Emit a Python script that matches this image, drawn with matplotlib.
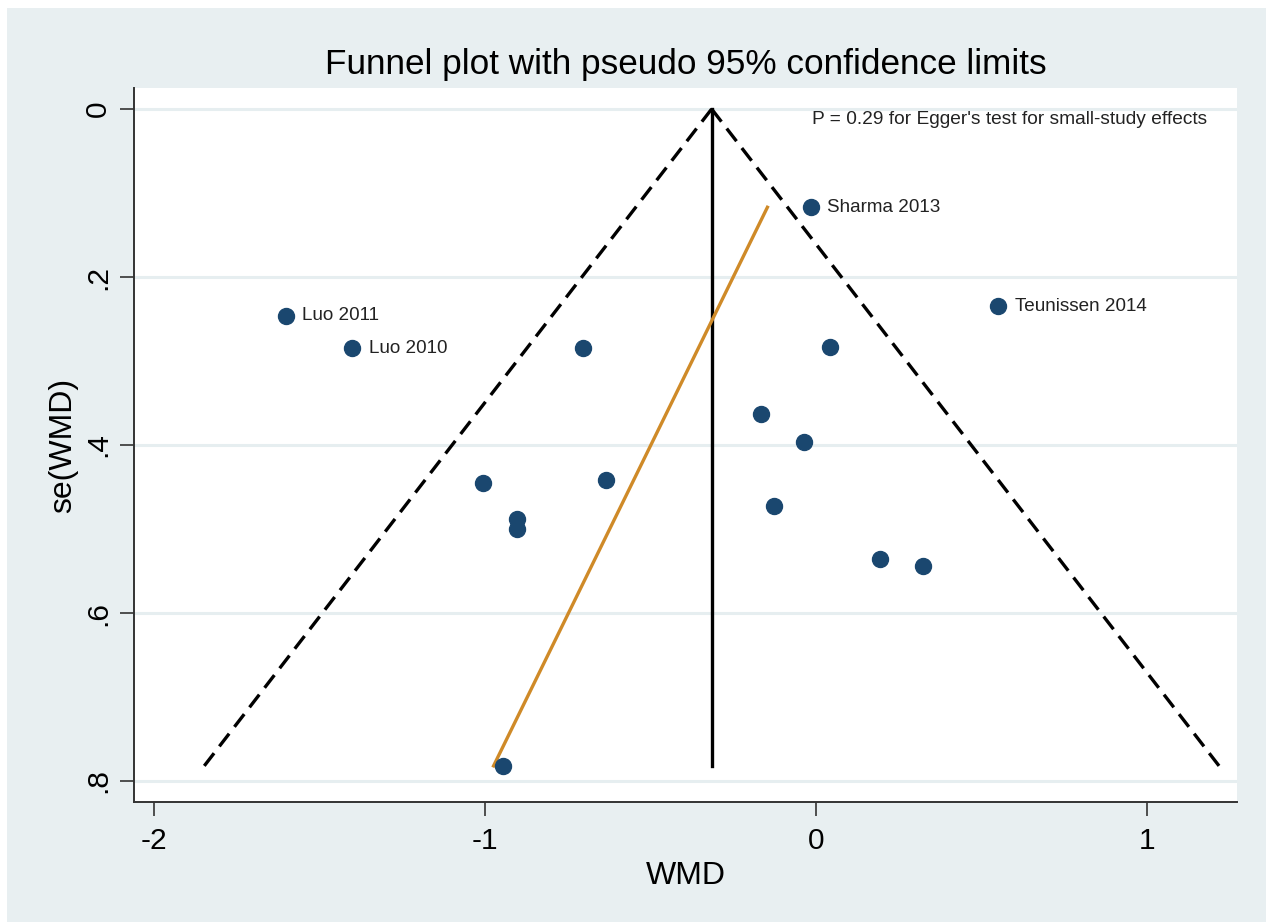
import numpy as np
import matplotlib
matplotlib.use("Agg")
import matplotlib.pyplot as plt
from matplotlib.patches import Rectangle

plt.rcParams['font.family'] = ['Liberation Sans', 'DejaVu Sans']

# Study effects (WMD) and their standard errors
wmd = [-1.602, -1.400, -0.703, -1.005, -0.635, -0.904, -0.904,
       0.044, -0.166, -0.035, -0.127, 0.193, 0.322,
       -0.016, 0.551, -0.946]
se = [0.246, 0.285, 0.284, 0.445, 0.442, 0.488, 0.500,
      0.283, 0.363, 0.396, 0.473, 0.536, 0.544,
      0.117, 0.235, 0.782]
labels = ["Luo 2011", "Luo 2010", "", "", "", "", "",
          "", "", "", "", "", "",
          "Sharma 2013", "Teunissen 2014", ""]

pooled = -0.315          # fixed-effect pooled WMD
egger_intercept = -0.001  # regression line: WMD = a + b * se
egger_slope = -1.244
egger_p = 0.29

x_ticks = [-2, -1, 0, 1]
x_ticklabels = ["-2", "-1", "0", "1"]
y_ticks = [0, 0.2, 0.4, 0.6, 0.8]
y_ticklabels = ["0", ".2", ".4", ".6", ".8"]

bg = "#e8eff1"
navy = "#1a476f"
orange = "#cf8a28"

fig = plt.figure(figsize=(12.66, 9.22), dpi=100)
fig.patch.set_facecolor(bg)
# thin white margin on the top and left edges
fig.patches.append(Rectangle((0, 1 - 8 / 922), 1, 8 / 922, transform=fig.transFigure,
                             facecolor="white", edgecolor="none", zorder=0))
fig.patches.append(Rectangle((0, 0), 7 / 1266, 1, transform=fig.transFigure,
                             facecolor="white", edgecolor="none", zorder=0))

ax = fig.add_axes([134 / 1266, 1 - 802 / 922, 1103 / 1266, 714 / 922])
ax.set_facecolor("white")

se_max = max(se)
se_min = min(se)

# horizontal grid
for yt in y_ticks:
    ax.axhline(yt, color="#e6eef0", lw=2.2, zorder=1)

# pseudo 95% confidence limits
s_line = np.array([0.0, se_max])
ax.plot(pooled - 1.96 * s_line, s_line, color="black", lw=2.4,
        dashes=(4.8, 2.6), zorder=3)
ax.plot(pooled + 1.96 * s_line, s_line, color="black", lw=2.4,
        dashes=(4.8, 2.6), zorder=3)
ax.plot([pooled, pooled], [0, se_max], color="black", lw=2.4, zorder=3)

# Egger regression line
s_eg = np.array([se_min, se_max])
ax.plot(egger_intercept + egger_slope * s_eg, s_eg, color=orange, lw=2.4, zorder=4)

# studies
ax.plot(wmd, se, linestyle="none", marker="o", ms=11.5, color=navy,
        markeredgecolor=navy, zorder=5)
for xv, yv, lab in zip(wmd, se, labels):
    if lab:
        ax.annotate(lab, (xv, yv), xytext=(12, 0), textcoords="offset points",
                    ha="left", va="center", fontsize=13.6, color="#222222", zorder=6)

ax.text(1.181, 0.012, f"P = {egger_p:.2f} for Egger's test for small-study effects",
        ha="right", va="center", fontsize=13.8, color="#222222", zorder=6)

ax.set_xlim(-2.06, 1.272)
ax.set_ylim(0.825, -0.025)

ax.set_xticks(x_ticks)
ax.set_xticklabels(x_ticklabels, fontsize=21.5)
ax.set_yticks(y_ticks)
ax.set_yticklabels(y_ticklabels, fontsize=21.5, rotation=90, va="center")
ax.tick_params(axis="both", length=10, width=1.2, color="#333333", pad=8)
ax.tick_params(axis="y", pad=6)

for side in ["top", "right"]:
    ax.spines[side].set_visible(False)
for side in ["left", "bottom"]:
    ax.spines[side].set_color("#333333")
    ax.spines[side].set_linewidth(1.4)

ax.set_xlabel("WMD", fontsize=23, labelpad=4)
ax.set_ylabel("se(WMD)", fontsize=23, labelpad=4)
ax.set_title("Funnel plot with pseudo 95% confidence limits", fontsize=25.3, pad=10)

fig.savefig("out.png", dpi=100, facecolor=fig.get_facecolor())
